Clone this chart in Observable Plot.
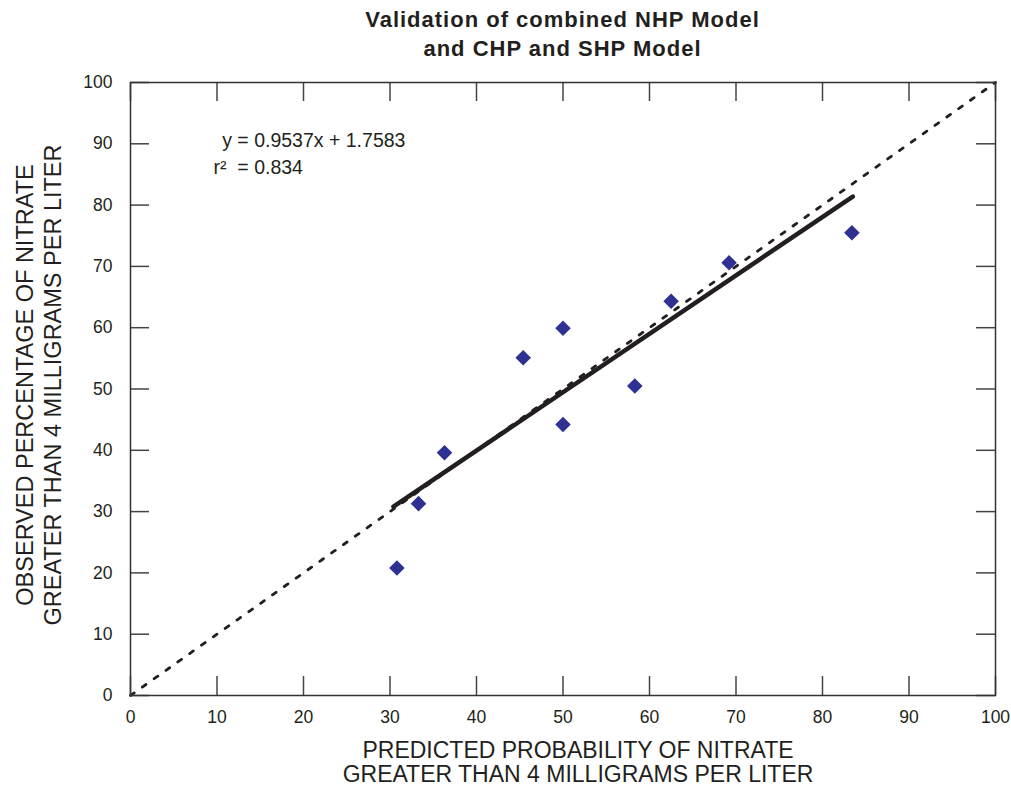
<!DOCTYPE html>
<html><head><meta charset="utf-8">
<script src="https://cdn.jsdelivr.net/npm/d3@7"></script>
<script src="https://cdn.jsdelivr.net/npm/@observablehq/plot@0.6"></script>
<style>
body{margin:0;background:#fff;font-family:"Liberation Sans",Arial,sans-serif;}
#title{width:1011px;height:64px;box-sizing:border-box;padding-top:5px;padding-left:130px;padding-right:16px;text-align:center;font-weight:bold;font-size:22px;line-height:29px;color:#231f20;letter-spacing:1px}
</style></head><body>
<div id="title">Validation of combined NHP Model<br>and CHP and SHP Model</div>
<div id="chart"></div>
<script>
// Data
const predicted = [30.8, 33.3, 36.3, 45.4, 50.0, 50.0, 58.3, 62.5, 69.2, 83.4];
const observed  = [20.8, 31.3, 39.6, 55.1, 59.9, 44.2, 50.5, 64.3, 70.6, 75.5];
const fitX = [30.4, 83.5];
const fitY = [30.8, 81.4];
const oneToOneX = [0, 100];
const oneToOneY = [0, 100];
const tickValues = [0, 10, 20, 30, 40, 50, 60, 70, 80, 90, 100];
const xLabel = "PREDICTED PROBABILITY OF NITRATE\nGREATER THAN 4 MILLIGRAMS PER LITER";
const yLabel = "OBSERVED PERCENTAGE OF NITRATE\nGREATER THAN 4 MILLIGRAMS PER LITER";
const noteTexts = ["y = 0.9537x + 1.7583", "r\u00B2  = 0.834"];
const noteX = [10.6, 9.6];
const noteY = [90.5, 86.1];

const points = predicted.map((p, i) => ({p, o: observed[i]}));
const fit = fitX.map((x, i) => ({x, y: fitY[i]}));
const diag = oneToOneX.map((x, i) => ({x, y: oneToOneY[i]}));
const notes = noteTexts.map((t, i) => ({t, x: noteX[i], y: noteY[i]}));

const W = 1011, H = 722, mT = 18, mB = 91, mL = 130, mR = 16;
const fw = W - mL - mR, fh = H - mT - mB, tk = 19;
const ink = "#231f20";

const chart = Plot.plot({
  width: W, height: H,
  marginTop: mT, marginBottom: mB, marginLeft: mL, marginRight: mR,
  style: {fontFamily: "'Liberation Sans', Arial, sans-serif", fontSize: "17.5px", color: ink, background: "#fff"},
  x: {domain: [0, 100]},
  y: {domain: [0, 100]},
  marks: [
    Plot.line(diag, {x: "x", y: "y", stroke: ink, strokeWidth: 2.8, strokeDasharray: "4.5,10"}),
    Plot.line(fit, {x: "x", y: "y", stroke: ink, strokeWidth: 4.5}),
    Plot.dot(points, {x: "p", y: "o", symbol: "diamond2", r: 7, fill: "#2e3192", stroke: "none"}),
    Plot.tickX(tickValues, {x: d => d, insetTop: fh - tk, stroke: "#444", strokeWidth: 1.5}),
    Plot.tickX(tickValues, {x: d => d, insetBottom: fh - tk, stroke: "#444", strokeWidth: 1.5}),
    Plot.tickY(tickValues, {y: d => d, insetRight: fw - tk, stroke: "#444", strokeWidth: 1.5}),
    Plot.tickY(tickValues, {y: d => d, insetLeft: fw - tk, stroke: "#444", strokeWidth: 1.5}),
    Plot.frame({stroke: "#333", strokeWidth: 1.5}),
    Plot.axisX({ticks: tickValues, tickSize: 0, tickPadding: 15, fontSize: 17.5, label: null}),
    Plot.axisY({ticks: tickValues, tickSize: 0, tickPadding: 18, fontSize: 17.5, label: null}),
    Plot.text(notes, {x: "x", y: "y", text: "t", textAnchor: "start", lineAnchor: "middle", fontSize: 19.5, fill: ink}),
    Plot.text([xLabel], {frameAnchor: "bottom", text: d => d, textAnchor: "middle", lineAnchor: "top", dy: 46, dx: 15, fontSize: 23, lineHeight: 1.04, fill: ink}),
    Plot.text([yLabel], {frameAnchor: "left", text: d => d, rotate: -90, textAnchor: "middle", lineAnchor: "middle", dx: -92, dy: -4, fontSize: 23.5, lineHeight: 1.19, fill: ink})
  ]
});
document.getElementById("chart").appendChild(chart);
</script>
</body></html>
